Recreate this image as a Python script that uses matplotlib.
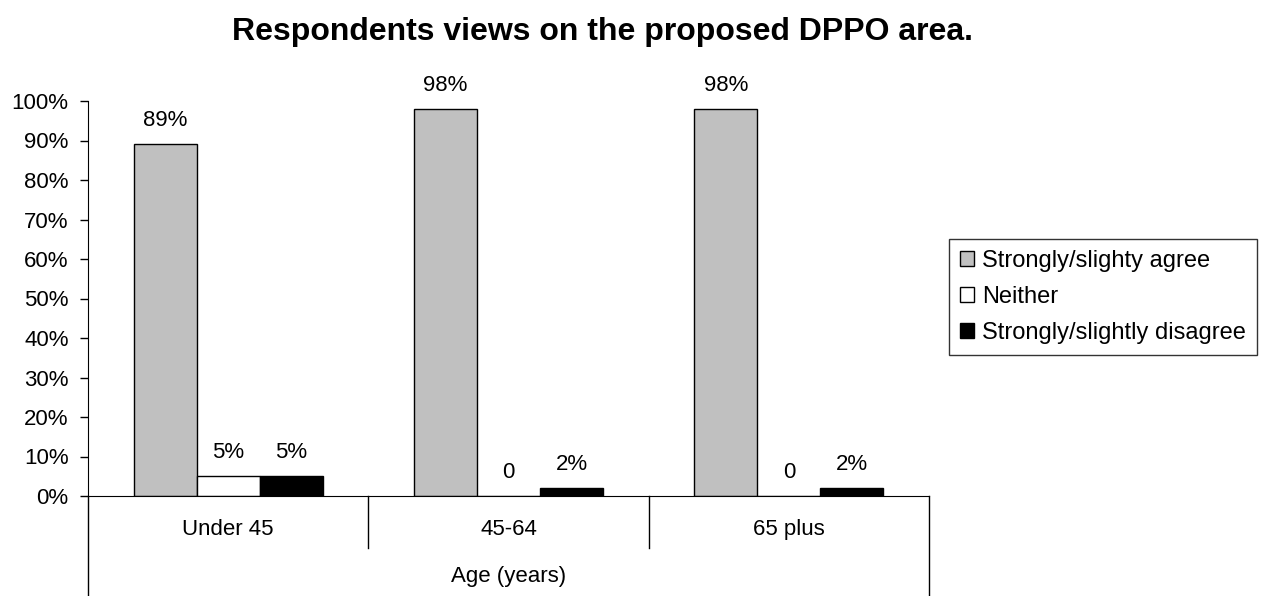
import matplotlib.pyplot as plt
import numpy as np

plt.rcParams["font.family"] = ["Liberation Sans", "DejaVu Sans"]

groups = ["Under 45", "45-64", "65 plus"]
series = ["Strongly/slighty agree", "Neither", "Strongly/slightly disagree"]
agree = [89, 98, 98]
neither = [5, 0, 0]
disagree = [5, 2, 2]
colors = ["#c0c0c0", "#ffffff", "#000000"]
yticks = [0, 10, 20, 30, 40, 50, 60, 70, 80, 90, 100]

FS = 16

fig = plt.figure(figsize=(12.64, 5.96), dpi=100)
ax = fig.add_axes([88 / 1264, 100 / 596, (929 - 88) / 1264, 395 / 596])

x = np.arange(len(groups))
width = 0.225
for i, (vals, col) in enumerate(zip([agree, neither, disagree], colors)):
    pos = x + (i - 1) * width
    ax.bar(pos, vals, width, color=col, edgecolor="black", linewidth=1.0,
           label=series[i], zorder=2)
    for px, v in zip(pos, vals):
        txt = f"{v}%" if v else "0"
        ax.annotate(txt, (px, v), xytext=(0, 17), textcoords="offset points",
                    ha="center", va="center", fontsize=FS)

ax.set_xlim(-0.5, 2.5)
ax.set_ylim(0, 100)
ax.set_yticks(yticks)
ax.set_yticklabels([f"{t}%" for t in yticks], fontsize=FS)
ax.tick_params(axis="y", direction="out", length=6, width=1, pad=8)
ax.set_xticks([])
for s in ["top", "right"]:
    ax.spines[s].set_visible(False)
ax.spines["left"].set_bounds(0, 100)

# category axis below the plot
tr = ax.get_xaxis_transform()
ax.plot([-0.5, -0.5], [0, -0.254], color="black", lw=1, transform=tr, clip_on=False)
ax.plot([2.5, 2.5], [0, -0.254], color="black", lw=1, transform=tr, clip_on=False)
for b in [0.5, 1.5]:
    ax.plot([b, b], [0, -0.132], color="black", lw=1, transform=tr, clip_on=False)
for xi, g in zip(x, groups):
    ax.text(xi, -0.086, g, transform=tr, ha="center", va="center", fontsize=FS)
ax.text(1, -0.205, "Age (years)", transform=tr, ha="center", va="center", fontsize=FS)

fig.text(603 / 1264, 1 - 32 / 596, "Respondents views on the proposed DPPO area.",
         ha="center", va="center", fontsize=23, fontweight="bold")

leg = fig.legend(loc="center left", bbox_to_anchor=(949 / 1264, 1 - 297 / 596),
                 fontsize=17, frameon=True, fancybox=False, edgecolor="black",
                 handlelength=0.6, handleheight=0.6, handletextpad=0.35,
                 labelspacing=0.6, borderpad=0.45, borderaxespad=0)
leg.get_frame().set_linewidth(1)

fig.savefig("out.png", dpi=100)
